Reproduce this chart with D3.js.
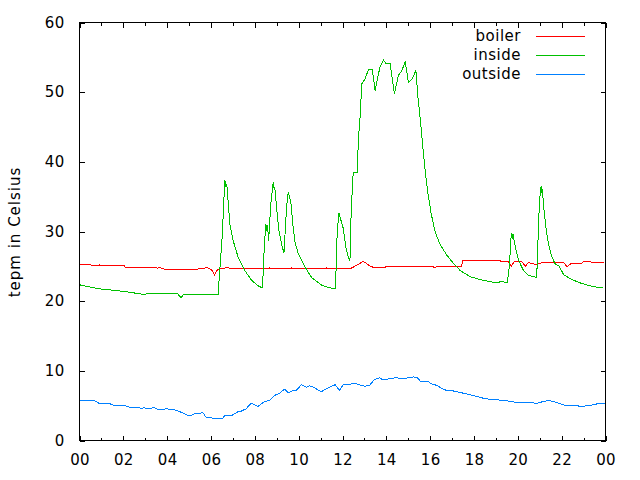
<!DOCTYPE html>
<html>
<head>
<meta charset="utf-8">
<script src="https://cdn.jsdelivr.net/npm/d3@7"></script>
<style>
  html, body { margin: 0; padding: 0; background: #fff; }
  svg { display: block; }
  text { font-family: "DejaVu Sans", sans-serif; font-size: 15px; fill: #000; }
</style>
</head>
<body>
<svg id="chart" width="640" height="480"></svg>
<script>
// ---- data (hours of day, temperature in Celsius) ----
const seriesNames = ["boiler", "inside", "outside"];
const seriesColors = ["#ff0000", "#00c000", "#0080ff"];

const boilerHours = [0.00,0.52,0.59,0.82,0.90,0.99,2.04,2.08,3.03,3.06,3.43,3.57,3.64,3.79,4.02,5.39,5.44,5.70,5.77,5.90,6.03,6.16,6.29,6.40,6.78,6.86,8.59,8.66,8.72,9.60,9.66,9.72,11.20,11.26,11.32,12.34,12.62,12.95,13.07,13.26,13.49,13.94,13.99,16.14,16.18,16.32,17.42,17.49,17.83,18.29,18.38,18.47,18.61,19.20,19.25,19.57,19.69,19.84,20.19,20.34,20.49,20.65,20.88,21.18,22.09,22.25,22.40,22.86,23.01,23.31,23.39,23.92];
const boilerValues = [25.2,25.2,25.1,25.1,25.2,25.1,25.1,24.9,24.9,24.8,24.8,24.75,24.9,24.65,24.5,24.5,24.7,24.7,24.9,24.7,24.5,23.8,24.5,24.6,24.85,24.65,24.65,24.8,24.65,24.65,24.8,24.65,24.65,24.8,24.65,24.65,25.1,25.7,25.5,25.0,24.8,24.8,25.0,25.0,24.8,25.0,25.0,25.8,25.9,25.9,25.8,25.9,25.8,25.8,25.65,25.65,25.0,25.65,25.65,25.0,25.6,25.35,25.3,25.6,25.55,24.9,25.35,25.35,25.7,25.7,25.5,25.5];

const insideHours = [0.00,0.82,2.04,2.96,3.11,3.41,4.48,4.63,4.75,6.32,6.35,6.51,6.63,6.67,6.72,6.78,6.86,7.01,7.24,7.54,7.85,8.15,8.35,8.43,8.50,8.55,8.58,8.63,8.73,8.84,8.88,8.91,8.99,9.10,9.22,9.33,9.37,9.45,9.52,9.57,9.65,9.75,9.83,9.98,10.29,10.59,11.05,11.43,11.66,11.70,11.76,11.84,11.93,12.04,12.15,12.27,12.34,12.39,12.45,12.49,12.68,12.72,12.80,12.88,13.03,13.18,13.36,13.49,13.56,13.71,13.87,13.99,14.17,14.37,14.55,14.71,14.86,15.01,15.16,15.35,15.44,15.54,15.65,15.77,15.90,16.05,16.23,16.46,16.76,17.07,17.37,17.83,18.29,18.74,19.05,19.20,19.51,19.58,19.66,19.70,19.75,19.78,19.89,20.04,20.26,20.49,20.85,20.88,20.95,21.00,21.06,21.09,21.12,21.18,21.30,21.41,21.56,21.71,21.87,22.09,22.40,22.86,23.31,23.62,23.88];
const insideValues = [22.35,21.8,21.4,20.95,21.1,21.05,21.05,20.5,20.95,20.95,22.2,29.2,37.4,36.4,36.8,34.4,31.1,28.7,26.3,24.4,23.0,22.2,21.9,27.7,31.1,30.1,30.9,28.7,34.0,37.1,36.1,36.4,33.5,30.1,28.2,26.9,29.2,33.5,35.6,35.2,34.0,30.6,28.5,26.8,24.9,23.4,22.3,21.9,21.8,24.0,30.1,32.6,31.6,30.4,27.7,26.3,25.8,32.1,36.4,38.4,38.4,43.1,46.4,51.2,51.9,53.2,53.2,50.2,51.4,53.6,54.6,54.1,54.1,49.8,52.4,53.1,54.4,51.4,51.8,53.1,49.3,46.4,42.6,38.8,35.4,32.5,29.9,28.1,26.6,25.4,24.4,23.5,23.1,22.8,22.6,22.8,22.7,23.9,27.3,29.7,29.2,29.6,27.7,25.8,24.4,23.7,23.4,24.9,31.6,34.7,36.5,35.7,35.9,33.5,30.1,28.0,26.3,25.3,25.1,23.8,23.2,22.6,22.2,22.0,21.9];

const outsideHours = [0.00,0.67,0.90,1.36,1.58,2.04,2.27,2.73,2.80,2.96,3.11,3.41,3.57,3.87,3.95,4.10,4.33,4.63,4.94,5.09,5.24,5.47,5.62,5.77,6.00,6.16,6.31,6.54,6.61,6.92,7.07,7.22,7.38,7.60,7.83,7.98,8.14,8.29,8.44,8.67,8.90,9.13,9.36,9.54,9.66,9.89,10.12,10.35,10.50,10.73,11.03,11.26,11.57,11.67,11.87,12.02,12.22,12.54,12.87,13.03,13.23,13.44,13.69,13.85,14.02,14.43,14.84,15.25,15.41,15.57,15.90,16.07,16.32,16.64,17.13,17.63,18.12,18.53,18.94,19.60,20.00,20.50,20.91,21.16,21.40,21.56,21.81,22.14,22.72,22.88,23.13,23.37,23.62,23.99];
const outsideValues = [5.74,5.74,5.31,5.31,5.02,5.02,4.79,4.69,4.6,4.69,4.6,4.69,4.5,4.5,4.6,4.45,4.4,4.07,3.59,3.59,3.83,3.83,4.07,3.35,3.3,3.11,3.2,3.2,3.54,3.54,3.83,4.1,4.21,4.55,5.36,5.17,4.88,5.26,5.6,5.74,6.46,6.8,7.37,6.84,7.08,7.18,8.0,7.66,7.85,7.56,6.99,7.42,7.9,8.0,7.18,8.0,8.0,8.23,7.89,7.80,7.89,8.71,9.0,8.71,8.8,9.0,8.9,9.14,9.0,8.47,8.47,8.13,7.89,7.27,7.08,6.70,6.32,5.98,5.89,5.65,5.41,5.41,5.36,5.6,5.74,5.65,5.41,5.07,4.98,4.88,4.98,5.07,5.26,5.26];

const xMajorTicks = [0,2,4,6,8,10,12,14,16,18,20,22,24];
const xMinorTicks = [1,3,5,7,9,11,13,15,17,19,21,23];
const yTicks = [0,10,20,30,40,50,60];
const yAxisTitle = "tepm in Celsius";

// ---- chart ----
const svg = d3.select("#chart");
const plotLeft = 79.5, plotRight = 605.5, plotTop = 22.5, plotBottom = 440.5;

const x = d3.scaleLinear().domain([0, 24]).range([plotLeft, plotRight]);
const y = d3.scaleLinear().domain([0, 60]).range([plotBottom, plotTop]);

const fmtHour = d => String(d % 24).padStart(2, "0");

function styleAxis(g) {
  g.select(".domain").remove();
  g.selectAll(".tick line").attr("stroke", "#000").attr("shape-rendering", "crispEdges");
  g.selectAll("text").attr("font-family", "DejaVu Sans, sans-serif").attr("font-size", 15)
    .attr("fill", "#000").attr("letter-spacing", "0.3px");
}

svg.append("g").attr("transform", `translate(0,${plotBottom})`)
  .call(d3.axisBottom(x).tickValues(xMajorTicks).tickSize(-5).tickPadding(14).tickFormat(fmtHour))
  .call(styleAxis);
svg.append("g").attr("transform", `translate(0,${plotBottom})`)
  .call(d3.axisBottom(x).tickValues(xMinorTicks).tickSize(-3).tickFormat(""))
  .call(styleAxis);
svg.append("g").attr("transform", `translate(0,${plotTop})`)
  .call(d3.axisTop(x).tickValues(xMajorTicks).tickSize(-5).tickFormat(""))
  .call(styleAxis);
svg.append("g").attr("transform", `translate(0,${plotTop})`)
  .call(d3.axisTop(x).tickValues(xMinorTicks).tickSize(-3).tickFormat(""))
  .call(styleAxis);
svg.append("g").attr("transform", `translate(${plotLeft},0)`)
  .call(d3.axisLeft(y).tickValues(yTicks).tickSize(-5).tickPadding(15))
  .call(styleAxis);
svg.append("g").attr("transform", `translate(${plotRight},0)`)
  .call(d3.axisRight(y).tickValues(yTicks).tickSize(-5).tickFormat(""))
  .call(styleAxis);

// frame
svg.append("rect")
  .attr("x", plotLeft).attr("y", plotTop)
  .attr("width", plotRight - plotLeft).attr("height", plotBottom - plotTop)
  .attr("fill", "none").attr("stroke", "#000").attr("stroke-width", 1)
  .attr("shape-rendering", "crispEdges");

// series
const seriesData = [
  boilerHours.map((h, i) => [h, boilerValues[i]]),
  insideHours.map((h, i) => [h, insideValues[i]]),
  outsideHours.map((h, i) => [h, outsideValues[i]])
];
const line = d3.line().x(d => x(d[0])).y(d => y(d[1]));
seriesData.forEach((data, i) => {
  svg.append("path")
    .datum(data)
    .attr("d", line)
    .attr("fill", "none")
    .attr("stroke", seriesColors[i])
    .attr("stroke-width", 1)
    .attr("shape-rendering", "crispEdges");
});

// legend
const legend = svg.append("g");
seriesNames.forEach((name, i) => {
  const cy = 35.5 + i * 19.3;
  legend.append("text")
    .attr("x", 521).attr("y", cy).attr("dy", "0.35em")
    .attr("text-anchor", "end")
    .attr("letter-spacing", "0.5px")
    .text(name);
  legend.append("line")
    .attr("x1", 536).attr("x2", 585)
    .attr("y1", Math.round(cy) + 0.5).attr("y2", Math.round(cy) + 0.5)
    .attr("stroke", seriesColors[i]).attr("stroke-width", 1)
    .attr("shape-rendering", "crispEdges");
});

// y axis title
svg.append("text")
  .attr("transform", "translate(20,232) rotate(-90)")
  .attr("text-anchor", "middle")
  .attr("letter-spacing", "1px")
  .text(yAxisTitle);
</script>
</body>
</html>
